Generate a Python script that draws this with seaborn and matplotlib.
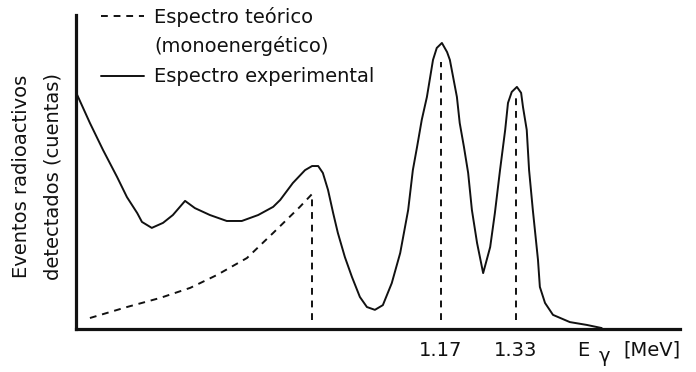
import numpy as np
import pandas as pd
import matplotlib
matplotlib.use("Agg")
import matplotlib.pyplot as plt
import seaborn as sns
from matplotlib.lines import Line2D

# ---- data (energy in MeV, counts in arbitrary units) ----
energy_exp = [0.394, 0.421, 0.449, 0.479, 0.500, 0.522, 0.532, 0.553, 0.577, 0.598,
              0.624, 0.645, 0.677, 0.713, 0.745, 0.780, 0.812, 0.827, 0.854, 0.880,
              0.895, 0.908, 0.918, 0.929, 0.940, 0.950, 0.965, 0.980, 0.997, 1.012,
              1.029, 1.046, 1.065, 1.083, 1.100, 1.110, 1.119, 1.129, 1.140, 1.153,
              1.161, 1.172, 1.183, 1.189, 1.204, 1.210, 1.219, 1.228, 1.236, 1.247,
              1.260, 1.275, 1.285, 1.296, 1.307, 1.313, 1.321, 1.332, 1.341, 1.345,
              1.353, 1.358, 1.366, 1.377, 1.381, 1.392, 1.409, 1.445, 1.481, 1.513]
counts_exp = [74.5, 65.6, 57.0, 48.4, 42.0, 36.9, 34.1, 32.2, 33.8, 36.3,
              40.8, 38.5, 36.3, 34.4, 34.4, 36.3, 38.9, 41.1, 46.5, 50.6,
              51.9, 51.9, 49.7, 44.3, 36.9, 30.6, 22.9, 16.6, 10.2, 7.0,
              6.1, 7.6, 14.6, 24.2, 37.9, 50.6, 58.0, 66.6, 73.9, 85.7,
              89.5, 91.1, 88.2, 85.7, 73.9, 65.6, 58.0, 49.7, 37.9, 27.4,
              17.8, 26.1, 36.9, 50.6, 63.4, 72.0, 75.5, 77.1, 75.2, 70.7,
              63.4, 50.6, 37.9, 22.0, 13.4, 8.3, 4.5, 2.2, 1.3, 0.3]

energy_theo = [0.421, 0.500, 0.571, 0.635, 0.692, 0.756, 0.812, 0.869, 0.895]
counts_theo = [3.5, 7.0, 9.9, 13.1, 17.2, 22.6, 30.6, 38.9, 43.0]

line_energies = [0.895, 1.17, 1.33]
line_tops = [43.0, 85.0, 73.5]
line_base = 2.9

tick_values = [1.17, 1.33]
tick_labels = ["1.17", "1.33"]

legend_labels = ["Espectro teórico", "(monoenergético)", "Espectro experimental"]
ylabel_lines = ["Eventos radioactivos", "detectados (cuentas)"]

# ---- figure ----
sns.set_theme(style="white")
plt.rcParams["font.family"] = ["DejaVu Sans"]

W, H = 696, 372
fig = plt.figure(figsize=(W / 100, H / 100), dpi=100)
ax = fig.add_axes([76 / W, 43 / H, 604 / W, 314 / H])

ink = "#111111"
dash = (0, (3.5, 3.0))

df_exp = pd.DataFrame({"E": energy_exp, "N": counts_exp})
df_theo = pd.DataFrame({"E": energy_theo, "N": counts_theo})
sns.lineplot(data=df_exp, x="E", y="N", ax=ax, color=ink, lw=1.4,
             sort=False, estimator=None)
sns.lineplot(data=df_theo, x="E", y="N", ax=ax, color=ink, lw=1.4,
             sort=False, estimator=None, linestyle=dash)
ax.vlines(line_energies, line_base, line_tops, colors=ink, lw=1.4, linestyles=[dash])

ax.set_xlim(0.3913, 1.68)
ax.set_ylim(0, 100)
ax.set_xlabel("")
ax.set_ylabel("")
ax.set_yticks([])
ax.set_xticks(tick_values)
fs = 14
ax.set_xticklabels(tick_labels, fontsize=fs, color=ink)
ax.tick_params(axis="x", length=0, pad=9)

for s in ["top", "right"]:
    ax.spines[s].set_visible(False)
for s in ["left", "bottom"]:
    ax.spines[s].set_linewidth(2.3)
    ax.spines[s].set_color(ink)

# axis label on x: E gamma [MeV]
fig.text(577 / W, 1 - 350 / H, "E", fontsize=fs, color=ink, ha="left", va="center")
fig.text(599 / W, 1 - 357 / H, "γ", fontsize=fs, color=ink, ha="left", va="center")
fig.text(623 / W, 1 - 350 / H, "[MeV]", fontsize=fs, color=ink, ha="left", va="center")

# y label lines
fig.text(22 / W, 1 - 176 / H, ylabel_lines[0], rotation=90, fontsize=fs, color=ink,
         ha="center", va="center")
fig.text(53 / W, 1 - 176 / H, ylabel_lines[1], rotation=90, fontsize=fs, color=ink,
         ha="center", va="center")

# legend (no frame)
fig.add_artist(Line2D([101 / W, 144 / W], [1 - 16 / H] * 2, transform=fig.transFigure,
                      color=ink, lw=1.4, linestyle=dash))
fig.add_artist(Line2D([101 / W, 144 / W], [1 - 76 / H] * 2, transform=fig.transFigure,
                      color=ink, lw=1.4))
fig.text(154 / W, 1 - 17 / H, legend_labels[0], fontsize=fs, color=ink, ha="left", va="center")
fig.text(154 / W, 1 - 46 / H, legend_labels[1], fontsize=fs, color=ink, ha="left", va="center")
fig.text(154 / W, 1 - 76 / H, legend_labels[2], fontsize=fs, color=ink, ha="left", va="center")

fig.savefig("out.png", dpi=100)
